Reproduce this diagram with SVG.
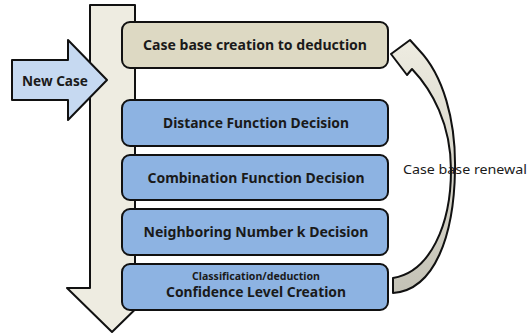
<svg xmlns="http://www.w3.org/2000/svg" width="532" height="334" viewBox="0 0 532 334">
  <defs>
    <linearGradient id="curveGrad" x1="0" y1="0" x2="0" y2="1">
      <stop offset="0" stop-color="#eeece1"/>
      <stop offset="1" stop-color="#c4c2b6"/>
    </linearGradient>
    <style>
      .shape { stroke: #111; stroke-width: 2; stroke-linejoin: round; }
      .tan { fill: #ddd9c3; }
      .blue { fill: #8db3e2; }
      .lbl { font-family: "Noto Sans", "Open Sans", "Liberation Sans", sans-serif; font-weight: bold; font-size: 13.5px; fill: #1a1a1a; text-anchor: middle; }
      .small { font-size: 10px; }
      .plain { font-family: "Noto Sans", "Open Sans", "Liberation Sans", sans-serif; font-size: 12.5px; fill: #1a1a1a; }
    </style>
  </defs>

  <g id="flow-arrow">
    <path class="shape" fill="#eeece1" d="M90,5 L135,5 L135,288 L157,288 L112,332 L67,288 L90,288 Z"/>
  </g>

  <g id="new-case">
    <path class="shape" fill="#c6d9f1" d="M12,60 L68,60 L68,40 L107,80 L68,120 L68,100 L12,100 Z"/>
    <text class="lbl" x="55" y="86" textLength="66" lengthAdjust="spacingAndGlyphs">New Case</text>
  </g>

  <g id="case-base-creation">
    <rect class="shape tan" x="122" y="22" width="266" height="46" rx="8"/>
    <text class="lbl" x="255" y="50" textLength="224" lengthAdjust="spacingAndGlyphs">Case base creation to deduction</text>
  </g>

  <g id="distance-function">
    <rect class="shape blue" x="122" y="100" width="266" height="46" rx="8"/>
    <text class="lbl" x="256" y="128" textLength="186" lengthAdjust="spacingAndGlyphs">Distance Function Decision</text>
  </g>

  <g id="combination-function">
    <rect class="shape blue" x="122" y="155" width="266" height="45" rx="8"/>
    <text class="lbl" x="256" y="183" textLength="217" lengthAdjust="spacingAndGlyphs">Combination Function Decision</text>
  </g>

  <g id="neighboring-number">
    <rect class="shape blue" x="122" y="209" width="266" height="46" rx="8"/>
    <text class="lbl" x="256" y="237" textLength="225" lengthAdjust="spacingAndGlyphs">Neighboring Number k Decision</text>
  </g>

  <g id="confidence-level">
    <rect class="shape blue" x="122" y="264" width="266" height="46" rx="8"/>
    <text class="lbl small" x="256" y="280" textLength="128" lengthAdjust="spacingAndGlyphs">Classification/deduction</text>
    <text class="lbl" x="256" y="297" textLength="180" lengthAdjust="spacingAndGlyphs">Confidence Level Creation</text>
  </g>

  <g id="connectors">
    <path class="shape" fill="url(#curveGrad)" stroke-width="1.8" d="M393,278 C430,272 451,225 451,170 C451,124 432,90 412,69 L407,75 L391,54 L410,40 L419,50 C443,75 456,120 455,170 C454,235 435,290 393,293 Z"/>
    <text class="plain" x="403" y="174" textLength="124" lengthAdjust="spacingAndGlyphs">Case base renewal</text>
  </g>
</svg>
